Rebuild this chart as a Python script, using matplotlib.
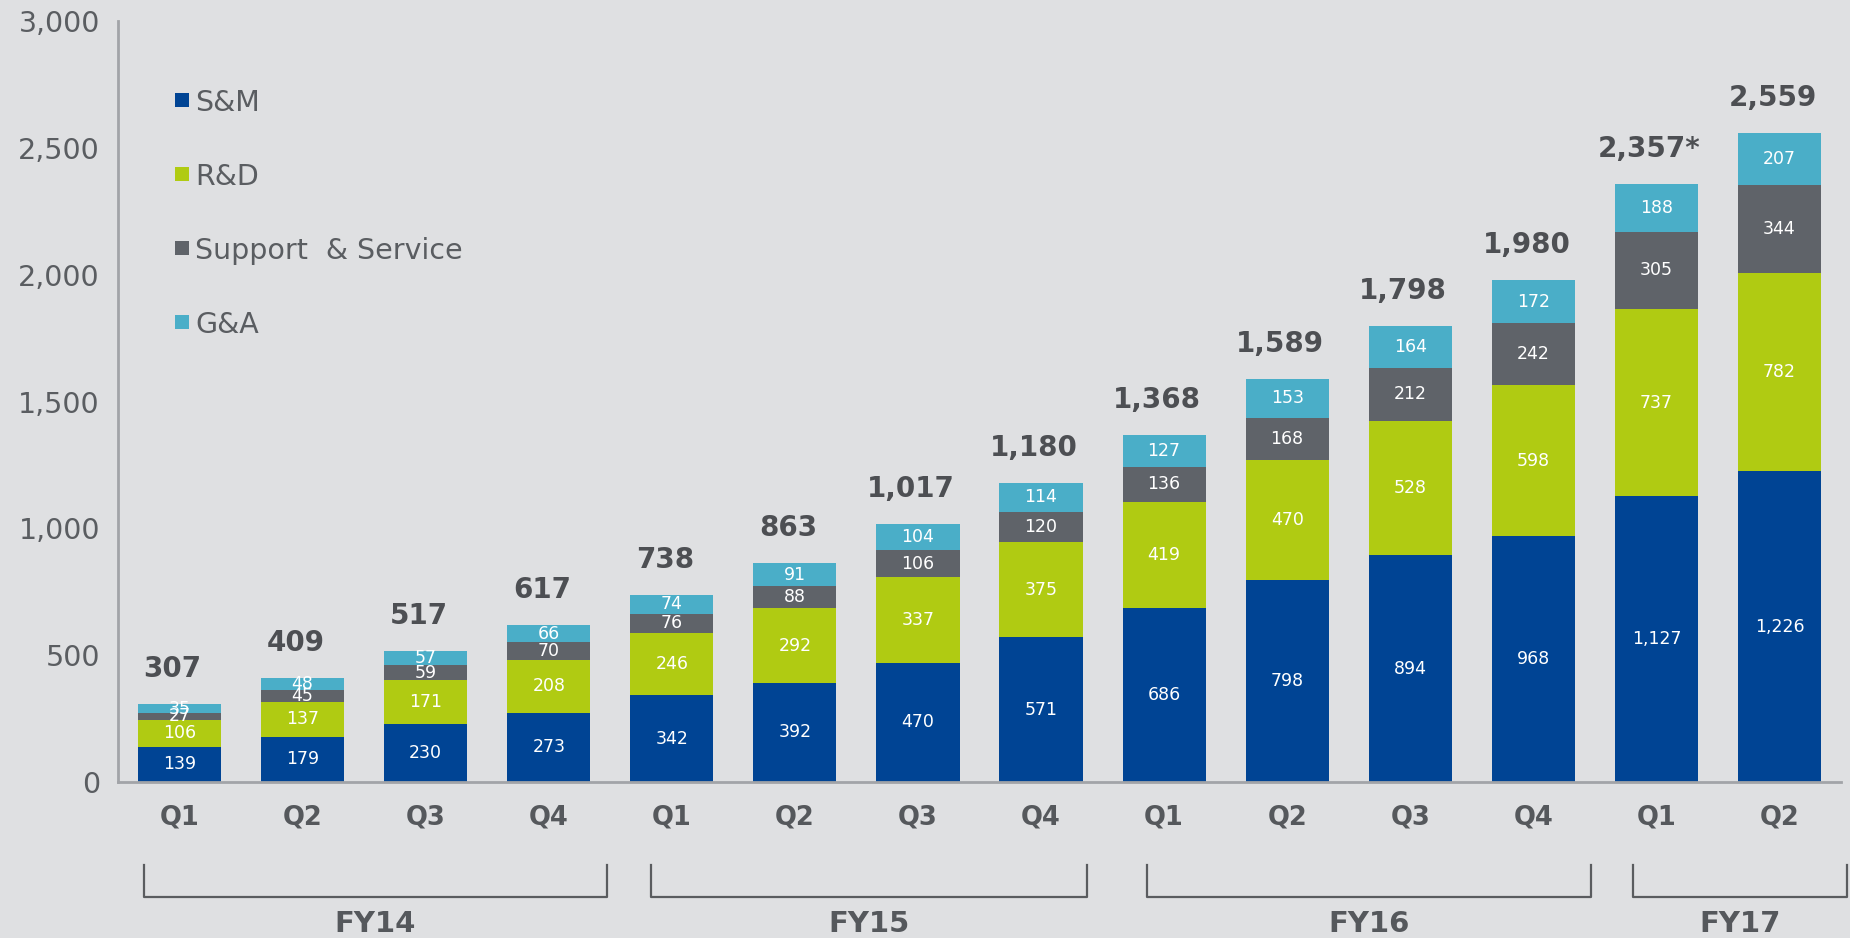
import numpy as np
import matplotlib.pyplot as plt
from matplotlib.patches import Rectangle
import matplotlib.transforms as mtransforms

# data
quarters = ['Q1', 'Q2', 'Q3', 'Q4', 'Q1', 'Q2', 'Q3', 'Q4', 'Q1', 'Q2', 'Q3', 'Q4', 'Q1', 'Q2']
sm = [139, 179, 230, 273, 342, 392, 470, 571, 686, 798, 894, 968, 1127, 1226]
rd = [106, 137, 171, 208, 246, 292, 337, 375, 419, 470, 528, 598, 737, 782]
support = [27, 45, 59, 70, 76, 88, 106, 120, 136, 168, 212, 242, 305, 344]
ga = [35, 48, 57, 66, 74, 91, 104, 114, 127, 153, 164, 172, 188, 207]
total_labels = ['307', '409', '517', '617', '738', '863', '1,017', '1,180',
                '1,368', '1,589', '1,798', '1,980', '2,357*', '2,559']
years = ['FY14', 'FY15', 'FY16', 'FY17']
# bracket spans in bar-index units (hand drawn in the original)
year_start = [-0.29, 3.83, 7.86, 11.81]
year_end = [3.47, 7.37, 11.47, 13.55]

names = ['S&M', 'R&D', 'Support  & Service', 'G&A']
colors = ['#004494', '#b0cb12', '#5f6369', '#4aaec8']
series = [sm, rd, support, ga]

bg = '#dfe0e2'
txt = '#55585c'
font = 'DejaVu Sans'

W, H = 1850, 938
fig = plt.figure(figsize=(W / 100, H / 100), dpi=100, facecolor=bg)
ax = fig.add_axes([118 / W, 1 - 782 / H, (1841 - 118) / W, (782 - 21) / H])
ax.set_facecolor(bg)

x = np.arange(len(quarters))
bottom = np.zeros(len(quarters))
for vals, c in zip(series, colors):
    vals = np.array(vals)
    ax.bar(x, vals, 0.675, bottom=bottom, color=c, linewidth=0, zorder=2)
    for xi, b, v in zip(x, bottom, vals):
        ax.text(xi, b + v / 2, f'{v:,}', ha='center', va='center', color='white',
                fontsize=12.5, family=font, zorder=3)
    bottom += vals

for xi, t, lab in zip(x, bottom, total_labels):
    ax.annotate(lab, (xi, t), xytext=(-5, 19.5), textcoords='offset points',
                ha='center', va='baseline', fontsize=20, fontweight='bold',
                color='#4d4f53', family=font)

ax.set_xlim(-0.5, 13.5)
ax.set_ylim(0, 3000)
ax.set_yticks(np.arange(0, 3001, 500))
ax.set_yticklabels([f'{v:,}' for v in range(0, 3001, 500)])
ax.set_xticks(x)
ax.set_xticklabels(quarters)
ax.tick_params(axis='y', length=0, pad=13, labelsize=20.5, labelcolor='#5a5d61')
ax.tick_params(axis='x', length=0, pad=16, labelsize=18.5, labelcolor=txt)
for lab in ax.get_yticklabels():
    lab.set_family(font)
for lab in ax.get_xticklabels():
    lab.set_family(font)
    lab.set_fontweight('bold')

for s in ['top', 'right']:
    ax.spines[s].set_visible(False)
for s in ['left', 'bottom']:
    ax.spines[s].set_color('#a2a4a8')
    ax.spines[s].set_linewidth(2)

# fiscal year brackets
trans = mtransforms.blended_transform_factory(ax.transData, ax.transAxes)
for yr, x0, x1 in zip(years, year_start, year_end):
    ax.plot([x0, x0, x1, x1], [-0.109, -0.151, -0.151, -0.109], color='#5a5c5f',
            lw=1.6, transform=trans, clip_on=False)
    ax.text((x0 + x1) / 2, -0.186, yr, transform=trans, ha='center', va='center',
            fontsize=21, fontweight='bold', color=txt, family=font)

# legend
for i, (n, c) in enumerate(zip(names, colors)):
    yc = 100 + i * 74
    fig.add_artist(Rectangle((175 / W, 1 - (yc + 7) / H), 14 / W, 14 / H,
                             transform=fig.transFigure, color=c, lw=0))
    fig.text(195 / W, 1 - (yc + 3) / H, n, ha='left', va='center', fontsize=20.5,
             color='#5a5d61', family=font)

fig.savefig('out.png', dpi=100, facecolor=bg)
